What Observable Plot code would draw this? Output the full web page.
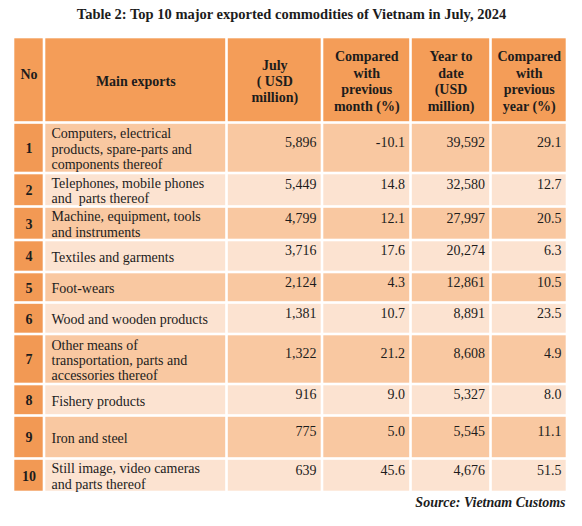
<!DOCTYPE html>
<html>
<head>
<meta charset="utf-8">
<script src="https://cdn.jsdelivr.net/npm/d3@7"></script>
<script src="https://cdn.jsdelivr.net/npm/@observablehq/plot@0.6"></script>
<style>
  html, body { margin: 0; padding: 0; background: #fff; }
  svg { display: block; }
</style>
</head>
<body>
<div id="chart"></div>
<script>
// ---- data ----
const title = "Table 2: Top 10 major exported commodities of Vietnam in July, 2024";
const source = "Source: Vietnam Customs";
const headers = [
  "No",
  "Main exports",
  "July\n( USD\nmillion)",
  "Compared\nwith\nprevious\nmonth (%)",
  "Year to\ndate\n(USD\nmillion)",
  "Compared\nwith\nprevious\nyear (%)"
];
const rank = [1, 2, 3, 4, 5, 6, 7, 8, 9, 10];
const commodities = [
  "Computers, electrical\nproducts, spare-parts and\ncomponents thereof",
  "Telephones, mobile phones\nand  parts thereof",
  "Machine, equipment, tools\nand instruments",
  "Textiles and garments",
  "Foot-wears",
  "Wood and wooden products",
  "Other means of\ntransportation, parts and\naccessories thereof",
  "Fishery products",
  "Iron and steel",
  "Still image, video cameras\nand parts thereof"
];
const julyValue = [5896, 5449, 4799, 3716, 2124, 1381, 1322, 916, 775, 639];
const vsPrevMonth = [-10.1, 14.8, 12.1, 17.6, 4.3, 10.7, 21.2, 9.0, 5.0, 45.6];
const yearToDate = [39592, 32580, 27997, 20274, 12861, 8891, 8608, 5327, 5545, 4676];
const vsPrevYear = [29.1, 12.7, 20.5, 6.3, 10.5, 23.5, 4.9, 8.0, 11.1, 51.5];

// ---- layout (not data) ----
const W = 582, H = 526;
const colEdges = [13, 44, 226.5, 322, 410.5, 490.5, 567];
const rowEdges = [37, 122.5, 173, 206.5, 240, 272, 302.5, 334, 384, 415.5, 458.5, 492];
const gap = 1.3;
const C = {
  header: "#F49D58",
  noCol: "#F29954",
  odd: "#F9C8A1",
  even: "#FCE3D1",
  text: "#1c1c1c"
};
const FONT = "'Liberation Serif', 'Times New Roman', serif";

// ---- build cells ----
const cells = [];
headers.forEach((h, c) => cells.push({x1: colEdges[c], x2: colEdges[c + 1], y1: rowEdges[0], y2: rowEdges[1], fill: C.header}));
rank.forEach((r, i) => {
  for (let c = 0; c < 6; c++) {
    cells.push({
      x1: colEdges[c], x2: colEdges[c + 1],
      y1: rowEdges[i + 1], y2: rowEdges[i + 2],
      fill: c === 0 ? C.noCol : (i % 2 === 0 ? C.odd : C.even)
    });
  }
});

const headerTexts = headers.map((h, c) => ({
  text: h,
  x: (colEdges[c] + colEdges[c + 1]) / 2,
  y: (rowEdges[0] + rowEdges[1]) / 2 + (c === 0 ? -7 : 0.5)
}));

const fmtInt = d3.format(",");
const fmtPct = v => v.toFixed(1);
const rows = rank.map((r, i) => ({
  no: String(r),
  label: commodities[i],
  vals: [fmtInt(julyValue[i]), fmtPct(vsPrevMonth[i]), fmtInt(yearToDate[i]), fmtPct(vsPrevYear[i])],
  top: rowEdges[i + 1], bottom: rowEdges[i + 2]
}));
const noTexts = rows.map(r => ({text: r.no, x: (colEdges[0] + colEdges[1]) / 2, y: (r.top + r.bottom) / 2 + 0.5}));
const labelTexts = rows.map(r => ({text: r.label, x: colEdges[1] + 7, y: (r.top + r.bottom) / 2 + 0.5}));
const numTexts = [];
rows.forEach(r => r.vals.forEach((v, k) => numTexts.push({
  text: v, x: colEdges[k + 3] - 6, y: (r.top + r.bottom) / 2 - 5.5
})));

const chart = Plot.plot({
  width: W, height: H,
  margin: 0,
  x: {type: "linear", domain: [0, W], range: [0, W], axis: null},
  y: {type: "linear", domain: [0, H], range: [0, H], axis: null},
  style: {fontFamily: FONT, background: "#fff"},
  marks: [
    Plot.rect(cells, {x1: "x1", x2: "x2", y1: "y1", y2: "y2", fill: "fill", inset: gap}),
    Plot.text([title], {x: () => W / 2, y: () => 14, text: d => d, fontSize: 14.5, fontWeight: "bold", fill: C.text, fontFamily: FONT}),
    Plot.text(headerTexts, {x: "x", y: "y", text: "text", fontSize: 14, fontWeight: "bold", lineHeight: 1.17, textAnchor: "middle", fill: C.text, fontFamily: FONT}),
    Plot.text(noTexts, {x: "x", y: "y", text: "text", fontSize: 14, fontWeight: "bold", textAnchor: "middle", fill: C.text, fontFamily: FONT}),
    Plot.text(labelTexts, {x: "x", y: "y", text: "text", fontSize: 14, lineHeight: 1.1, textAnchor: "start", fill: C.text, fontFamily: FONT}),
    Plot.text(numTexts, {x: "x", y: "y", text: "text", fontSize: 14, textAnchor: "end", fill: C.text, fontFamily: FONT}),
    Plot.text([source], {x: () => 565, y: () => 502, text: d => d, fontSize: 14, fontWeight: "bold", fontStyle: "italic", textAnchor: "end", fill: C.text, fontFamily: FONT})
  ]
});
document.getElementById("chart").append(chart);
</script>
</body>
</html>
